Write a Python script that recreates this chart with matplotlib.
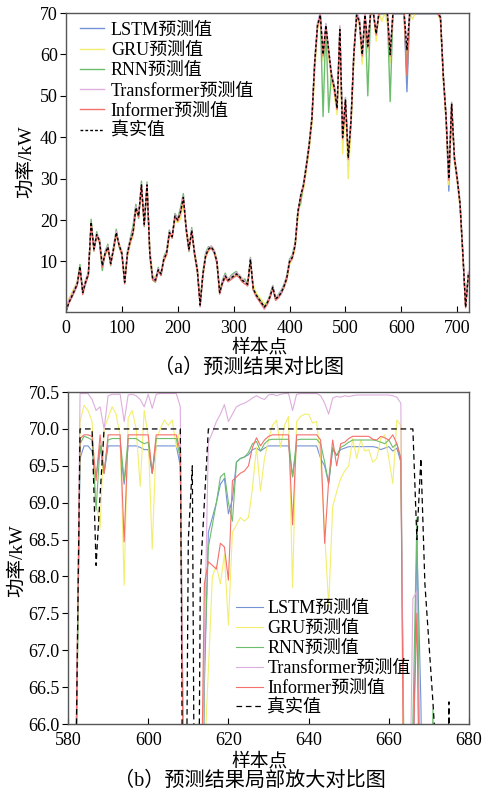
import numpy as np
import matplotlib
matplotlib.use('Agg')
import matplotlib.pyplot as plt
from matplotlib import font_manager
from matplotlib.ticker import FormatStrFormatter

try:
    font_manager.findfont('Liberation Serif', fallback_to_default=False)
    latin = 'Liberation Serif'
except Exception:
    latin = 'DejaVu Serif'
plt.rcParams['font.family'] = [latin, 'Noto Sans CJK SC']
plt.rcParams['axes.unicode_minus'] = False

# ---------------- data: full series (every 5th sample) ----------------
x_full = np.arange(0, 721, 5)

true_full = [-2, 0, 1.5, 3, 4.5, 8.8, 2.5, 5, 7, 19.5,
             13, 16.5, 15, 9, 12, 13.5, 9.5, 13, 17, 14,
             12, 5, 12, 15, 17, 23, 21, 28.5, 19, 28.5,
             12, 6, 5.5, 8, 7, 10.5, 12, 17, 16, 21,
             20, 22, 25.5, 18, 13, 17.5, 12, 8, -0.5, 7,
             11.5, 13, 13.5, 12.5, 10, 2.5, 5, 6.5, 5.5, 6,
             6.5, 7, 6.5, 5.5, 5, 4.5, 10.5, 3.5, 2, 1,
             0, -1, 0, 1.5, 3.8, 1, 1.5, 2.5, 4, 6,
             10, 11, 14, 22, 26, 28.5, 33, 38, 44.5, 58,
             67, 69.5, 60, 67, 61, 55, 52, 47, 66, 40,
             49, 35, 44, 60, 69.5, 68, 60, 69.5, 62, 70,
             70, 65, 70, 70, 70, 70, 60, 70, 70, 70,
             70, 70, 61, 70, 70, 70, 70, 70, 70, 70,
             70, 70, 70, 70, 69, 55, 45, 30, 48, 35,
             30, 24, 12, -1, 7]

lstm_full = [-2, 0.3, 1.2, 2.8, 4.2, 8, 3, 4.6, 6.8, 18.5,
             13.5, 16, 15.2, 9.5, 11.6, 13, 10, 12.5, 16.5, 14.3,
             12.2, 5.5, 11.5, 14.6, 16.6, 22.4, 21.3, 27.6, 19.6, 27.8,
             12.8, 6.3, 5.2, 7.7, 7.2, 10.2, 11.7, 16.5, 16.2, 20.5,
             20.2, 21.5, 25, 18.4, 13.4, 17, 12.4, 8.3, 0, 6.6,
             11.2, 12.8, 13.6, 12.7, 10.3, 3, 4.8, 6.3, 5.7, 5.8,
             6.4, 6.8, 6.6, 5.7, 5.2, 4.6, 9.8, 3.8, 2.2, 1.1,
             0.2, -1.2, -0.2, 1.3, 3.5, 1.2, 1.3, 2.3, 3.8, 5.7,
             9.6, 11.2, 13.6, 21.4, 25.7, 28, 32.5, 37.4, 44, 57,
             66.5, 69.3, 59, 66.4, 60.3, 54.6, 51.2, 46.5, 65, 39.5,
             48.2, 34.5, 43.2, 59.4, 69.2, 67.4, 58.5, 69.3, 61.2, 69.8,
             69.8, 64.4, 69.8, 69.8, 69.8, 69.8, 59, 69.8, 69.8, 69.8,
             69.8, 69.8, 51, 69.8, 69.8, 69.8, 69.8, 69.8, 69.8, 69.8,
             69.8, 69.8, 69.8, 69.8, 68.5, 54.4, 44.2, 27, 47.4, 34.5,
             29.5, 23.5, 11.6, -0.5, 6.5]

gru_full = [-1.5, 1, 2.4, 3.8, 5, 8.2, 3.5, 5.4, 7.3, 18,
            13.8, 15.6, 15.6, 10.2, 11.5, 12.8, 10.3, 12.4, 16, 14.5,
            12.6, 6.2, 11.2, 14.2, 16.2, 21.8, 21.6, 27, 20, 27.2,
            13.4, 6.8, 6, 7.6, 7.6, 10, 11.5, 16, 16.4, 19.8,
            19.4, 20.2, 24.2, 18.8, 14, 16.6, 12.6, 8.8, 0.8, 6.4,
            11, 12.5, 13.8, 12.9, 10.6, 3.6, 4.9, 6.6, 6, 6.1,
            6.6, 7, 6.8, 6, 5.5, 4.9, 9.4, 4.2, 2.6, 1.5,
            0.8, -0.3, 0.4, 1.6, 3.4, 1.6, 1.7, 2.6, 3.6, 5.4,
            9.2, 10.6, 13.2, 20.5, 25, 27.4, 31.8, 36.8, 43, 55.5,
            66, 69.6, 58.4, 66.2, 59.6, 53.5, 50.4, 45.4, 64, 36,
            47.5, 30, 42, 58.5, 70, 67.2, 57.6, 70, 60.5, 70,
            70, 63.2, 70, 68, 70, 67.5, 58, 70, 70, 70,
            70, 70, 59.5, 70, 68.5, 70, 70, 70, 70, 70,
            70, 70, 70, 70, 68, 54, 44, 28.5, 46.6, 34,
            29.2, 23, 11.4, 0.2, 6.8]

rnn_full = [-1.8, 0.5, 1.8, 3.2, 4.8, 9.3, 2.8, 5.2, 6.5, 20.2,
            12.5, 17.2, 14.6, 7.8, 12.4, 14.2, 9, 13.6, 17.8, 13.6,
            11.6, 4.8, 12.6, 15.6, 18.6, 23.8, 20.4, 29.4, 18.4, 29.2,
            11.2, 5.6, 5, 8.6, 6.6, 11.2, 12.6, 17.6, 15.6, 21.6,
            20.4, 23, 26.4, 17.6, 12.4, 18.2, 11.6, 7.4, -0.2, 7.6,
            12.2, 13.6, 13.2, 12.2, 9.6, 2.2, 5.6, 7.2, 5.2, 6.6,
            7.2, 7.6, 6.2, 5.2, 5.8, 4.2, 11, 3.2, 1.8, 0.9,
            -0.1, -0.9, 0.1, 2, 4.2, 0.8, 2, 3, 4.5, 6.6,
            10.6, 11.6, 14.6, 22.6, 24, 29, 33.6, 38.6, 45, 58.6,
            67.4, 69.8, 45, 67.4, 46, 55.4, 52.6, 47.6, 66.6, 40.6,
            49.6, 35.4, 44.6, 60.6, 69.9, 68.4, 60.4, 69.9, 50, 69.9,
            69.9, 65.4, 69.9, 69.9, 69.9, 69.9, 48.6, 69.9, 69.9, 69.9,
            69.9, 69.9, 55, 69.9, 69.9, 69.9, 69.9, 69.9, 69.9, 69.9,
            69.9, 69.9, 69.9, 69.9, 69.2, 55.6, 45.4, 30.4, 48.4, 35.4,
            30.4, 24.4, 12.4, -0.8, 7.2]

trans_full = [-1.6, 0.6, 2, 3.4, 4.8, 8.6, 2.6, 5.6, 7.4, 19,
              13.2, 16.7, 15.4, 9.4, 12.3, 13.8, 9.7, 13.3, 17.3, 14.2,
              12.3, 5.2, 12.4, 15.3, 17.4, 23.3, 21.4, 28.8, 19.4, 28.8,
              12.4, 6.4, 5.8, 8.3, 7.3, 10.8, 12.3, 17.3, 16.4, 21.3,
              20.4, 22.3, 25.8, 18.4, 13.4, 17.8, 12.4, 8.4, -1, 7.3,
              11.8, 13.3, 13.8, 12.8, 10.3, 2.2, 5.3, 6.8, 5.8, 6.3,
              6.8, 7.3, 6.8, 5.8, 5.3, 4.2, 10.8, 3.4, 1.7, 0.6,
              -0.4, -1.6, -0.4, 1.8, 4.1, 1.3, 1.8, 2.8, 4.3, 6.3,
              10.3, 11.3, 14.3, 22.3, 26.3, 28.8, 33.3, 38.3, 44.8, 58.5,
              67.5, 70.4, 60.5, 67.5, 61.5, 55.5, 52.5, 47.5, 67, 40.5,
              49.5, 35.5, 44.5, 60.5, 70.4, 68.5, 60.5, 70.4, 62.5, 70.5,
              70.5, 65.5, 70.5, 70.5, 70.5, 70.5, 60.5, 70.5, 70.5, 70.5,
              70.5, 70.5, 61.5, 70.4, 70.4, 70.5, 70.5, 70.5, 70.5, 70.5,
              70.5, 70.5, 70.5, 70.5, 69.5, 55.5, 45.5, 30.5, 48.5, 35.5,
              30.5, 24.5, 12.5, -0.6, 7.5]

inf_full = [-2.2, -0.2, 1.2, 2.6, 4.2, 8.4, 2, 4.7, 6.7, 19.2,
            12.6, 16.2, 14.6, 8.6, 11.7, 13.2, 9.2, 12.7, 16.7, 13.7,
            11.7, 4.6, 11.7, 14.7, 16.7, 22.7, 20.7, 28.2, 18.7, 28.2,
            11.6, 5.6, 5.1, 7.7, 6.6, 10.2, 11.7, 16.7, 15.7, 20.7,
            19.7, 21.7, 25.2, 17.6, 12.6, 17.2, 11.6, 7.6, -0.8, 6.6,
            11.2, 12.7, 13.2, 12.2, 9.6, 2.2, 4.6, 6.1, 5.1, 5.6,
            6.1, 6.6, 6.1, 5.1, 4.6, 4.1, 10.2, 3.1, 1.6, 0.6,
            -0.4, -1.3, -0.4, 1.2, 3.5, 0.6, 1.2, 2.2, 3.7, 5.7,
            9.7, 10.7, 13.7, 21.7, 25.7, 28.2, 32.7, 37.7, 44.2, 57.6,
            66.7, 69.4, 59.6, 66.7, 60.6, 54.7, 51.7, 46.7, 65.6, 39.6,
            48.7, 34.7, 43.7, 59.7, 69.4, 67.7, 59.6, 69.4, 61.6, 69.9,
            69.9, 64.7, 69.9, 69.9, 69.9, 69.9, 59.6, 69.9, 69.9, 69.9,
            69.9, 69.9, 55, 69.9, 69.9, 69.9, 69.9, 69.9, 69.9, 69.9,
            69.9, 69.9, 69.9, 69.9, 68.7, 54.7, 44.7, 29.6, 47.7, 34.7,
            29.7, 23.7, 11.7, -1.2, 6.7]

# ---------------- data: zoomed window, samples 580..680 ----------------
x_zoom = np.arange(580, 681)

true_zoom = ([60, 62, 65.5, 70, 70, 70, 70, 68.15, 69.1, 70]          # 580-589
             + [70.0] * 19                                             # 590-608
             + [61, 68.5, 69.5, 60, 68, 69]                            # 609-614
             + [70.0] * 52                                             # 615-666
             + [68.5, 69.6, 67.9, 67.1, 66.3, 65.4, 62, 60, 66.3, 58,
                52, 48, 45, 43])                                       # 667-680

lstm_zoom = [58, 60, 65.5, 69.6, 69.77, 69.77, 69.7, 69.35, 69.77, 69.4,
             69.77, 69.77, 69.77, 69.77, 69.25, 69.77, 69.77, 69.77, 69.75, 69.72,
             69.72, 69.4, 69.77, 69.77, 69.77, 69.77, 69.77, 69.77, 69.5, 64,
             58, 62, 63, 62, 66.5, 68.6, 68.8, 69.0, 69.25, 69.33,
             68.85, 69.05, 69.55, 69.6, 69.62, 69.65, 69.72, 69.74, 69.7, 69.74,
             69.77, 69.77, 69.77, 69.77, 69.77, 69.77, 69.35, 69.77, 69.77, 69.77,
             69.77, 69.77, 69.77, 69.6, 69.5, 69.26, 69.72, 69.64, 69.72, 69.74,
             69.76, 69.76, 69.76, 69.76, 69.76, 69.76, 69.76, 69.75, 69.72, 69.74,
             69.76, 69.7, 69.74, 69.55, 64, 63, 65, 68.5, 66.3, 62,
             60, 58, 56, 55, 54, 53, 52, 51, 50, 49, 48]

gru_zoom = [57, 59, 65, 70.1, 70.32, 70.25, 70.1, 69.0, 68.65, 70.0,
            70.15, 70.3, 70.2, 69.9, 67.88, 70.15, 70.25, 70.0, 69.22, 70.25,
            69.9, 68.37, 69.85, 70.0, 70.12, 70.05, 70.12, 69.75, 70.0, 63,
            57, 61, 62, 61, 65.5, 66.73, 68.0, 68.15, 67.9, 68.3,
            67.34, 68.6, 68.7, 68.8, 68.75, 68.8, 69.2, 69.75, 69.16, 69.6,
            69.85, 70.05, 70.12, 69.75, 70.05, 70.17, 67.85, 70.1, 70.17, 70.2,
            70.2, 70.08, 70.1, 69.6, 68.6, 67.6, 68.95, 69.15, 69.33, 69.43,
            69.5, 69.87, 69.6, 69.85, 69.7, 69.72, 69.55, 69.6, 69.87, 69.92,
            69.6, 69.26, 70.12, 70.05, 62, 61, 64, 66, 62, 60,
            58, 56, 55, 54, 53, 52, 51, 50, 49, 48, 47]

rnn_zoom = [58.5, 60.5, 65, 69.8, 69.9, 69.88, 69.85, 68.9, 69.78, 69.4,
            69.85, 69.87, 69.87, 69.87, 69.3, 69.87, 69.87, 69.87, 69.83, 69.8,
            69.82, 69.4, 69.87, 69.87, 69.87, 69.87, 69.87, 69.87, 69.6, 64.5,
            58, 62.5, 63, 62, 66.8, 68.4, 68.7, 69.0, 69.35, 69.4,
            69.0, 68.75, 69.55, 69.6, 69.62, 69.68, 69.8, 69.83, 69.7, 69.8,
            69.85, 69.86, 69.86, 69.86, 69.86, 69.86, 69.35, 69.85, 69.86, 69.86,
            69.86, 69.86, 69.86, 69.8, 69.55, 69.26, 69.75, 69.64, 69.75, 69.78,
            69.82, 69.85, 69.85, 69.85, 69.85, 69.85, 69.85, 69.84, 69.82, 69.8,
            69.85, 69.75, 69.8, 69.6, 64.5, 63.5, 66, 68.8, 64, 62,
            63, 66.2, 60, 56, 54, 53, 52, 51, 50, 49, 48]

trans_zoom = [57.5, 59.5, 65.5, 70.48, 70.48, 70.48, 70.4, 70.25, 70.3, 70.0,
              70.45, 70.47, 70.47, 70.47, 70.1, 70.46, 70.47, 70.45, 70.4, 70.3,
              70.47, 70.28, 70.47, 70.48, 70.48, 70.48, 70.48, 70.48, 70.3, 64,
              58.5, 62, 63.5, 63, 67, 69.82, 69.95, 70.1, 70.2, 70.33,
              70.1, 70.2, 70.3, 70.33, 70.35, 70.38, 70.42, 70.45, 70.42, 70.4,
              70.46, 70.47, 70.45, 70.47, 70.48, 70.48, 70.25, 70.47, 70.48, 70.48,
              70.48, 70.48, 70.48, 70.45, 70.35, 70.2, 70.42, 70.44, 70.43, 70.45,
              70.44, 70.45, 70.46, 70.46, 70.46, 70.46, 70.46, 70.46, 70.46, 70.46,
              70.46, 70.45, 70.43, 70.35, 63, 64, 67.7, 67.8, 63, 61,
              59, 57, 55, 54, 53, 52, 51, 50, 49, 48, 47]

inf_zoom = [57, 59, 65.8, 69.87, 69.92, 69.92, 69.9, 69.3, 69.92, 69.4,
            69.92, 69.92, 69.92, 69.92, 68.47, 69.92, 69.92, 69.92, 69.92, 69.92,
            69.92, 69.4, 69.92, 69.92, 69.92, 69.92, 69.92, 69.92, 69.7, 63.5,
            57, 61, 62, 64, 67.9, 68.2, 68.15, 68.1, 68.45, 68.4,
            67.95, 69.3, 69.35, 69.4, 69.43, 69.5, 69.75, 69.88, 69.77, 69.85,
            69.9, 69.92, 69.92, 69.92, 69.92, 69.92, 68.7, 69.92, 69.92, 69.92,
            69.92, 69.92, 69.92, 69.85, 68.45, 69.3, 69.85, 69.5, 69.8, 69.82,
            69.87, 69.9, 69.9, 69.9, 69.9, 69.9, 69.86, 69.85, 69.9, 69.88,
            69.85, 69.92, 69.8, 69.6, 63, 62.5, 65.5, 67.5, 63.5, 61,
            59, 57, 55, 54, 53, 52, 51, 50, 49, 48, 47]

names = ['LSTM预测值', 'GRU预测值', 'RNN预测值', 'Transformer预测值', 'Informer预测值']
colors = ['#7393d6', '#f3ee6e', '#6cbd6c', '#deaede', '#f4706a']

full_series = [lstm_full, gru_full, rnn_full, trans_full, inf_full]
zoom_series = [lstm_zoom, gru_zoom, rnn_zoom, trans_zoom, inf_zoom]

fig = plt.figure(figsize=(4.95, 7.98), dpi=100)
ax1 = fig.add_axes([0.1333, 0.609, 0.8141, 0.3747])
ax2 = fig.add_axes([0.1374, 0.0927, 0.8101, 0.416])

# top panel
for ys, c, n in zip(full_series, colors, names):
    ax1.plot(x_full, ys, color=c, lw=1.0, label=n)
ax1.plot(x_full, true_full, color='black', lw=1.0, ls=(0, (2, 1.5)), label='真实值')
ax1.set_xlim(0, 721)
ax1.set_ylim(-2.2, 70)
ax1.set_xticks([0, 100, 200, 300, 400, 500, 600, 700])
ax1.set_yticks([10, 20, 30, 40, 50, 60, 70])
ax1.legend(loc='upper left', frameon=False, fontsize=13, handlelength=1.3,
           handletextpad=0.4, labelspacing=0.18, borderaxespad=0.0,
           bbox_to_anchor=(0.017, 0.995))

# bottom panel
for ys, c, n in zip(zoom_series, colors, names):
    ax2.plot(x_zoom, ys, color=c, lw=0.8, label=n)
ax2.plot(x_zoom, true_zoom, color='black', lw=0.9, ls=(0, (4.5, 3)), label='真实值')
ax2.set_xlim(580, 680)
ax2.set_ylim(66.0, 70.5)
ax2.set_xticks([580, 600, 620, 640, 660, 680])
ax2.set_yticks([66.0, 66.5, 67.0, 67.5, 68.0, 68.5, 69.0, 69.5, 70.0, 70.5])
ax2.yaxis.set_major_formatter(FormatStrFormatter('%.1f'))
ax2.legend(loc='lower left', frameon=False, fontsize=13, handlelength=1.5,
           handletextpad=0.25, labelspacing=0.16, borderaxespad=0.0,
           bbox_to_anchor=(0.40, 0.0))

for ax in (ax1, ax2):
    ax.tick_params(axis='x', direction='in', length=4, labelsize=13, pad=6)
    ax.tick_params(axis='y', direction='out', length=4, labelsize=13, pad=2)
    for s in ax.spines.values():
        s.set_color('#555555')
        s.set_linewidth(1.0)

fig.text(0.052, 0.797, '功率/kW', rotation=90, ha='center', va='center', fontsize=14)
fig.text(0.034, 0.298, '功率/kW', rotation=90, ha='center', va='center', fontsize=14)
fig.text(0.525, 0.564, '样本点', ha='center', va='center', fontsize=13.5)
fig.text(0.525, 0.046, '样本点', ha='center', va='center', fontsize=13.5)
fig.text(0.503, 0.538, '（a）预测结果对比图', ha='center', va='center', fontsize=14.5)
fig.text(0.505, 0.021, '（b）预测结果局部放大对比图', ha='center', va='center', fontsize=14.5)

fig.savefig('out.png', dpi=100)
